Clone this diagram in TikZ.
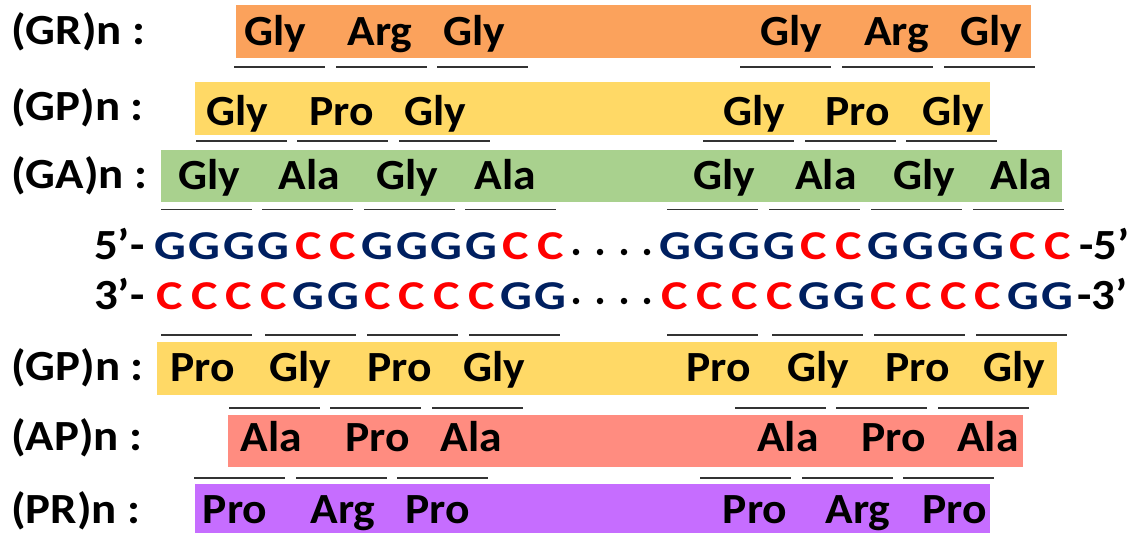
\documentclass[tikz,border=0pt]{standalone}
\usepackage{fontspec}
\setmainfont{Carlito}
\definecolor{cGR}{HTML}{FBA25C}
\definecolor{cGP}{HTML}{FFD966}
\definecolor{cGA}{HTML}{A9D18E}
\definecolor{cAP}{HTML}{FF8C80}
\definecolor{cPR}{HTML}{C66DFF}
\definecolor{dnaB}{HTML}{002060}
\definecolor{dnaR}{HTML}{FF0000}
\newcommand\sx[1]{\scalebox{1.06}[1]{#1}}
\newcommand\slab[1]{\scalebox{1.09}[1]{#1}}
\newcommand\sd[1]{\scalebox{1.22}[1]{#1}}
\begin{document}
\begin{tikzpicture}[x=1pt,y=-1pt,
  lbl/.style={anchor=base west,inner sep=0pt,font=\fontsize{43}{46}\selectfont\bfseries},
  amino/.style={anchor=base,inner sep=0pt,font=\fontsize{43}{46}\selectfont\bfseries},
  nt/.style={anchor=base,inner sep=0pt,font=\fontsize{41}{44}\selectfont\bfseries},
  seg/.style={line width=1.5pt,draw=black!80},
  dot/.style={circle,fill=black,inner sep=0pt,minimum size=6.5pt}]
\useasboundingbox (0,0) rectangle (1146,533);
% bars
\fill[cGR] (236,5) rectangle (1031,58);
\fill[cGP] (195,82) rectangle (990,135);
\fill[cGA] (160.5,150) rectangle (1062,202);
\fill[cGP] (157,342) rectangle (1057,395);
\fill[cAP] (228,415) rectangle (1023,467);
\fill[cPR] (195,484) rectangle (990,533);
% labels
\node[lbl] (lGR) at (11,44) {\slab{(GR)n :}};
\node[lbl] (lGP) at (11,120) {\slab{(GP)n :}};
\node[lbl] (lGA) at (11,188) {\slab{(GA)n :}};
\node[lbl] (lGPb) at (11,380) {\slab{(GP)n :}};
\node[lbl] (lAP) at (11,450) {\slab{(AP)n :}};
\node[lbl] (lPR) at (11,523) {\slab{(PR)n :}};
% amino acids
\foreach \x/\t [count=\i] in {275.5/Gly,380/Arg,474/Gly,791/Gly,896.5/Arg,991/Gly}
  \node[amino] (gr\i) at (\x,45) {\sx{\t}};
\foreach \x/\t [count=\i] in {237/Gly,341.5/Pro,435.5/Gly,754/Gly,857.5/Pro,953.5/Gly}
  \node[amino] (gp\i) at (\x,125) {\sx{\t}};
\foreach \x/\t [count=\i] in {209.5/Gly,309.5/Ala,407.5/Gly,505.5/Ala,724/Gly,826/Ala,924.5/Gly,1021.5/Ala}
  \node[amino] (ga\i) at (\x,189) {\sx{\t}};
\foreach \x/\t [count=\i] in {202.5/Pro,300.5/Gly,399.5/Pro,494.5/Gly,718.5/Pro,818.5/Gly,917.5/Pro,1014.5/Gly}
  \node[amino] (gpb\i) at (\x,381) {\sx{\t}};
\foreach \x/\t [count=\i] in {271.5/Ala,377.5/Pro,471.5/Ala,788/Ala,893.5/Pro,988/Ala}
  \node[amino] (ap\i) at (\x,451) {\sx{\t}};
\foreach \x/\t [count=\i] in {235/Pro,343/Arg,437.5/Pro,755/Pro,858/Arg,954.5/Pro}
  \node[amino] (pr\i) at (\x,523) {\sx{\t}};
% segments
\foreach \x in {234,336,437,740,842,944} \draw[seg] (\x,67) -- ++(91,0);
\foreach \x in {196,297,399,703,805,906} \draw[seg] (\x,141) -- ++(91,0);
\foreach \x in {161,262,364,465,667,769,871,973} \draw[seg] (\x,209.5) -- ++(91,0);
\foreach \x in {161,265,367,469,667,772,874,976} \draw[seg] (\x,335) -- ++(91,0);
\foreach \x in {229,330,432,735,836,938} \draw[seg] (\x,408) -- ++(91,0);
\foreach \x in {194,296,397,700,802,903} \draw[seg] (\x,478) -- ++(91,0);
% DNA
\node[lbl] (p5) at (94,259) {\slab{5’-}};
\node[lbl] (p3) at (94,309) {\slab{3’-}};
\node[lbl] (q5) at (1079,259) {\slab{-5’}};
\node[lbl] (q3) at (1077,309) {\slab{-3’}};
\foreach \c/\col [count=\i from 0] in {G/dnaB,G/dnaB,G/dnaB,G/dnaB,C/dnaR,C/dnaR,G/dnaB,G/dnaB,G/dnaB,G/dnaB,C/dnaR,C/dnaR} {
  \node[nt,text=\col] (a\i) at ({170+34.6*\i},259) {\sd{\c}};
  \node[nt,text=\col] (c\i) at ({675+34.8*\i},259) {\sd{\c}};
}
\foreach \c/\col [count=\i from 0] in {C/dnaR,C/dnaR,C/dnaR,C/dnaR,G/dnaB,G/dnaB,C/dnaR,C/dnaR,C/dnaR,C/dnaR,G/dnaB,G/dnaB} {
  \node[nt,text=\col] (b\i) at ({170+34.6*\i},309) {\sd{\c}};
  \node[nt,text=\col] (d\i) at ({675+34.8*\i},309) {\sd{\c}};
}
\foreach \x [count=\i] in {576,600,624,647} {
  \node[dot] (u\i) at (\x,252) {};
  \node[dot] (v\i) at (\x,301) {};
}
\end{tikzpicture}
\end{document}
